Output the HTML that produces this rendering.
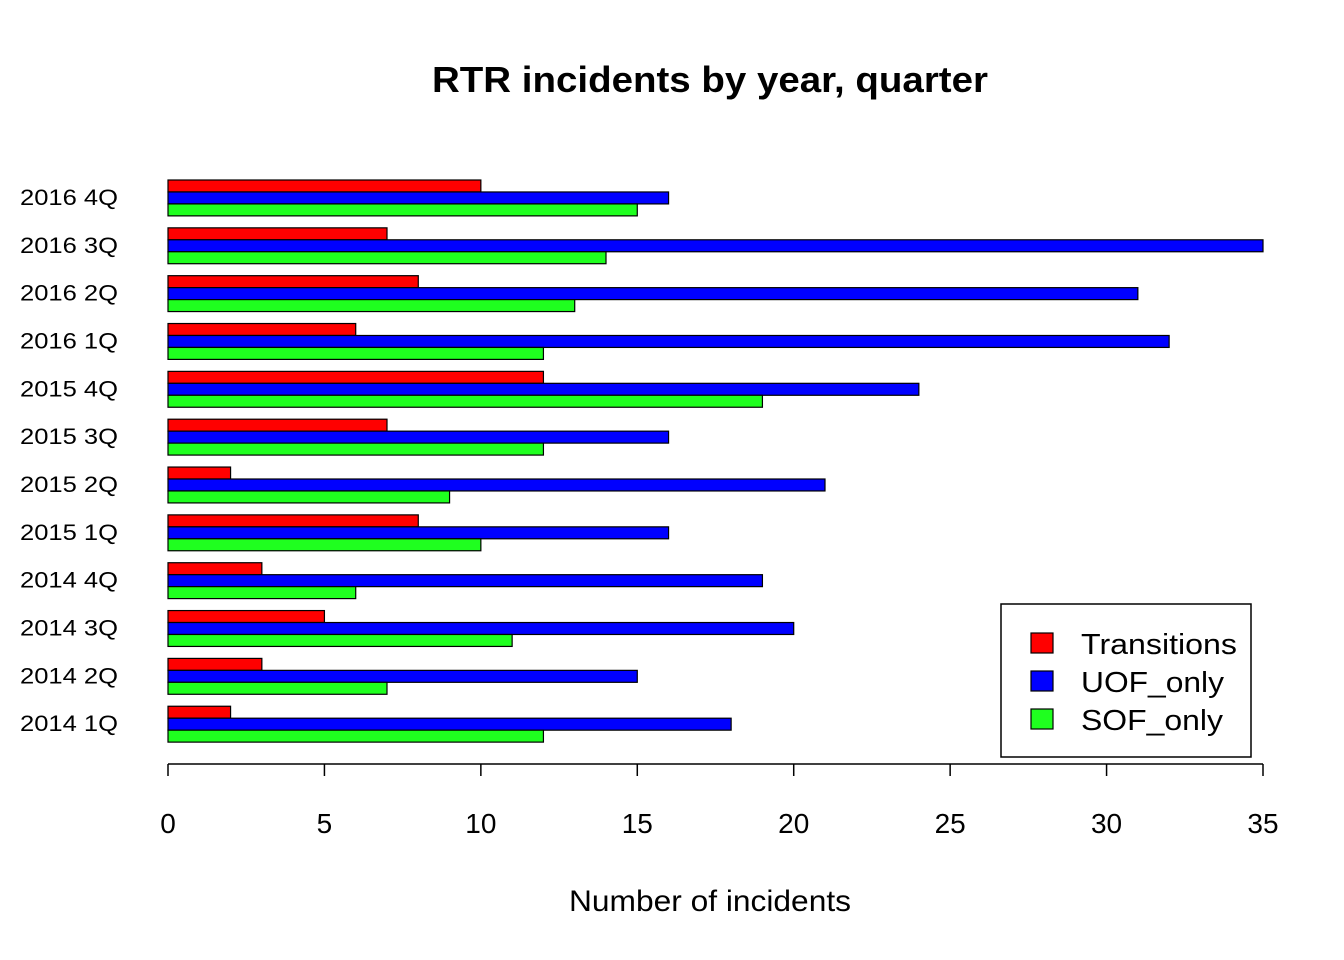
<!DOCTYPE html>
<html><head><meta charset="utf-8"><style>
html,body{margin:0;padding:0;background:#fff}
svg{display:block;font-family:"Liberation Sans",Arial,sans-serif}
</style></head><body>
<svg id="chart" width="1344" height="960" viewBox="0 0 1344 960">
<rect width="1344" height="960" fill="#fff"/>
<text x="710" y="92" font-size="36" font-weight="bold" text-anchor="middle" textLength="556" lengthAdjust="spacingAndGlyphs">RTR incidents by year, quarter</text>
<text x="710" y="911" font-size="30" text-anchor="middle" textLength="282" lengthAdjust="spacingAndGlyphs">Number of incidents</text>
<g id="bars"></g>
<g id="ylabels"></g>
<g id="xaxis"></g>
<g>
<rect x="1001" y="604" width="250" height="153" fill="#fff" stroke="#000" stroke-width="1.5"/>
<g><rect x="1031" y="633" width="22" height="20" fill="#ff0000" stroke="#000" stroke-width="1.2"/><text x="1081" y="654" font-size="29" textLength="156" lengthAdjust="spacingAndGlyphs">Transitions</text></g>
<g><rect x="1031" y="671" width="22" height="20" fill="#0000ff" stroke="#000" stroke-width="1.2"/><text x="1081" y="692" font-size="29" textLength="143" lengthAdjust="spacingAndGlyphs">UOF_only</text></g>
<g><rect x="1031" y="709" width="22" height="20" fill="#1fff1f" stroke="#000" stroke-width="1.2"/><text x="1081" y="730" font-size="29" textLength="142" lengthAdjust="spacingAndGlyphs">SOF_only</text></g>
</g>
</svg>
<script>
const categories = ["2016 4Q","2016 3Q","2016 2Q","2016 1Q","2015 4Q","2015 3Q","2015 2Q","2015 1Q","2014 4Q","2014 3Q","2014 2Q","2014 1Q"];
const transitions = [10,7,8,6,12,7,2,8,3,5,3,2];
const uofOnly = [16,35,31,32,24,16,21,16,19,20,15,18];
const sofOnly = [15,14,13,12,19,12,9,10,6,11,7,12];
const xTicks = [0,5,10,15,20,25,30,35];

const NS = "http://www.w3.org/2000/svg";
const x = v => 168 + v * (1095 / 35);
const unit = 11.96, top0 = 180;
const series = [[transitions,"#ff0000","transitions"],[uofOnly,"#0000ff","uof-only"],[sofOnly,"#1fff1f","sof-only"]];
const bars = document.getElementById("bars");
const yl = document.getElementById("ylabels");
categories.forEach((c, i) => {
  const gy = top0 + i * 4 * unit;
  series.forEach((s, j) => {
    const r = document.createElementNS(NS, "rect");
    r.setAttribute("x", x(0));
    r.setAttribute("y", gy + j * unit);
    r.setAttribute("width", x(s[0][i]) - x(0));
    r.setAttribute("height", unit);
    r.setAttribute("fill", s[1]);
    r.setAttribute("stroke", "#000");
    r.setAttribute("stroke-width", "1.2");
    
    
    bars.appendChild(r);
  });
  const t = document.createElementNS(NS, "text");
  t.setAttribute("x", 118);
  t.setAttribute("y", gy + 1.5 * unit + 7);
  t.setAttribute("font-size", "22");
  t.setAttribute("text-anchor", "end");
  t.setAttribute("textLength", "98");
  t.setAttribute("lengthAdjust", "spacingAndGlyphs");
  t.textContent = c;
  
  
  yl.appendChild(t);
});
const xa = document.getElementById("xaxis");
const ln = document.createElementNS(NS, "line");
ln.setAttribute("x1", x(0)); ln.setAttribute("x2", x(35));
ln.setAttribute("y1", 764); ln.setAttribute("y2", 764);
ln.setAttribute("stroke", "#000"); ln.setAttribute("stroke-width", "1.5");


xa.appendChild(ln);
xTicks.forEach(v => {
  const tk = document.createElementNS(NS, "line");
  tk.setAttribute("x1", x(v)); tk.setAttribute("x2", x(v));
  tk.setAttribute("y1", 764); tk.setAttribute("y2", 776);
  tk.setAttribute("stroke", "#000"); tk.setAttribute("stroke-width", "1.5");
  
  
  xa.appendChild(tk);
  const t = document.createElementNS(NS, "text");
  t.setAttribute("x", x(v)); t.setAttribute("y", 833);
  t.setAttribute("font-size", "28"); t.setAttribute("text-anchor", "middle");
  t.textContent = v;
  
  
  xa.appendChild(t);
});
</script>
</body></html>
